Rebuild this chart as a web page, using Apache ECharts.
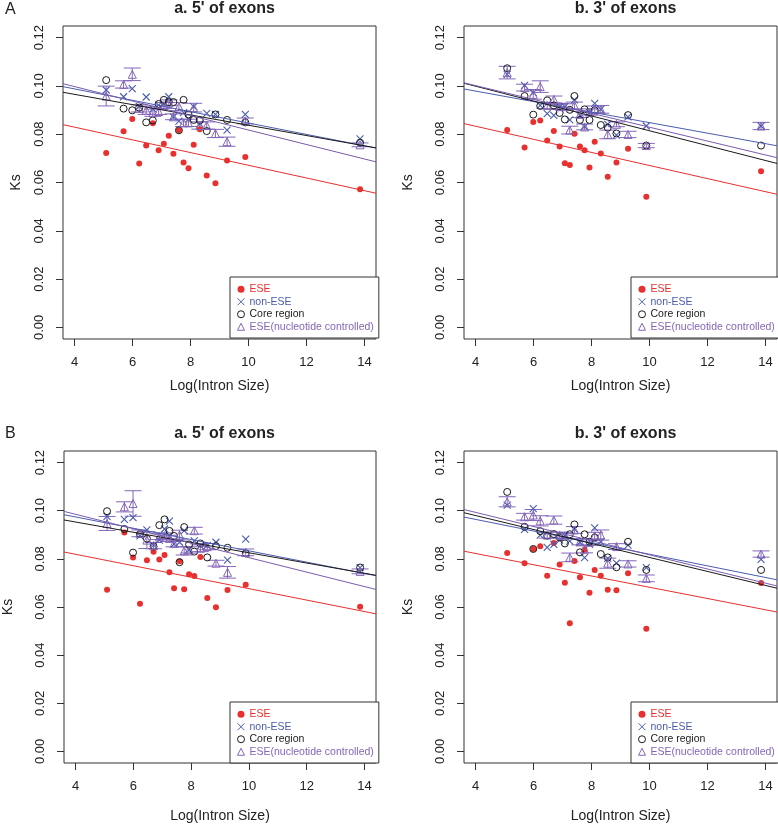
<!DOCTYPE html>
<html>
<head>
<meta charset="utf-8">
<script src="https://cdn.jsdelivr.net/npm/echarts@6/dist/echarts.min.js"></script>
<style>
  html, body { margin: 0; padding: 0; background: #fff; }
  #main { width: 778px; height: 824px; }
</style>
</head>
<body>
<div id="main"></div>
<script>
// log intron size bins (shared by all panels)
const logIntronSize = [5.09, 5.69, 5.99, 6.23, 6.47, 6.70, 6.90, 7.08, 7.25, 7.41, 7.60, 7.76, 7.93, 8.11, 8.32, 8.56, 8.86, 9.26, 9.89, 13.85]
const xTicks = [4, 6, 8, 10, 12, 14]
const yTicks = [0, 0.02, 0.04, 0.06, 0.08, 0.1, 0.12]

// A, 5' of exons
const a5Ese = [0.0722, 0.0812, 0.0863, 0.0679, 0.0753, 0.0845, 0.0734, 0.0760, 0.0794, 0.0719, 0.0816, 0.0683, 0.0659, 0.0756, 0.0821, 0.0629, 0.0597, 0.0691, 0.0706, 0.0572]
const a5NonEse = [0.0983, 0.0955, 0.0989, 0.0915, 0.0954, 0.0905, 0.0920, 0.0926, 0.0955, 0.0872, 0.0854, 0.0889, 0.0862, 0.0914, 0.0843, 0.0886, 0.0882, 0.0817, 0.0882, 0.0781]
const a5Core = [0.1024, 0.0906, 0.0899, 0.0910, 0.0849, 0.0857, 0.0925, 0.0942, 0.0933, 0.0933, 0.0816, 0.0942, 0.0882, 0.0859, 0.0857, 0.0813, 0.0882, 0.0859, 0.0849, 0.0765]
const a5Nc = [0.0958, 0.1006, 0.1048, 0.0907, 0.0899, 0.0889, 0.0894, 0.0919, 0.0930, 0.0872, 0.0914, 0.0847, 0.0847, 0.0910, 0.0836, 0.0836, 0.0803, 0.0769, 0.0855, 0.0756]
const a5NcErr = [0.0041, 0.0015, 0.0026, 0.0015, 0.0017, 0.0015, 0.0012, 0.0012, 0.0012, 0.0012, 0.0017, 0.0015, 0.0015, 0.0018, 0.0015, 0.0015, 0.0017, 0.0019, 0.0012, 0.0008]

// A, 3' of exons
const a3Ese = [0.0817, 0.0745, 0.0850, 0.0857, 0.0774, 0.0813, 0.0749, 0.0680, 0.0672, 0.0802, 0.0749, 0.0734, 0.0662, 0.0769, 0.0720, 0.0624, 0.0683, 0.0740, 0.0541, 0.0647]
const a3NonEse = [0.1048, 0.1002, 0.0972, 0.0919, 0.0885, 0.0878, 0.0914, 0.0914, 0.0859, 0.0942, 0.0878, 0.0831, 0.0889, 0.0928, 0.0903, 0.0841, 0.0796, 0.0872, 0.0834, 0.0834]
const a3Core = [0.1073, 0.0958, 0.0881, 0.0917, 0.0940, 0.0919, 0.0888, 0.0861, 0.0901, 0.0958, 0.0859, 0.0903, 0.0859, 0.0899, 0.0838, 0.0827, 0.0803, 0.0879, 0.0753, 0.0753]
const a3Nc = [0.1055, 0.0993, 0.0965, 0.0997, 0.0919, 0.0944, 0.0914, 0.0914, 0.0817, 0.0919, 0.0882, 0.0830, 0.0892, 0.0903, 0.0903, 0.0799, 0.0841, 0.0799, 0.0753, 0.0834]
const a3NcErr = [0.0026, 0.0014, 0.0020, 0.0024, 0.0013, 0.0014, 0.0012, 0.0012, 0.0016, 0.0014, 0.0013, 0.0012, 0.0013, 0.0014, 0.0016, 0.0018, 0.0010, 0.0013, 0.0009, 0.0015]

// B, 5' of exons
const b5Ese = [0.0672, 0.0909, 0.0806, 0.0614, 0.0794, 0.0830, 0.0797, 0.0816, 0.0744, 0.0678, 0.0790, 0.0674, 0.0736, 0.0729, 0.0808, 0.0637, 0.0599, 0.0671, 0.0692, 0.0601]
const b5NonEse = [0.0976, 0.0964, 0.0971, 0.0895, 0.0920, 0.0857, 0.0878, 0.0924, 0.0957, 0.0862, 0.0869, 0.0917, 0.0837, 0.0875, 0.0855, 0.0855, 0.0869, 0.0795, 0.0882, 0.0764]
const b5Core = [0.0998, 0.0924, 0.0826, 0.0903, 0.0884, 0.0851, 0.0940, 0.0964, 0.0916, 0.0895, 0.0786, 0.0932, 0.0860, 0.0830, 0.0864, 0.0806, 0.0853, 0.0846, 0.0823, 0.0764]
const b5Nc = [0.0947, 0.1016, 0.1030, 0.0906, 0.0878, 0.0855, 0.0892, 0.0896, 0.0885, 0.0864, 0.0899, 0.0833, 0.0837, 0.0917, 0.0844, 0.0851, 0.0782, 0.0744, 0.0827, 0.0748]
const b5NcErr = [0.0029, 0.0021, 0.0053, 0.0014, 0.0035, 0.0013, 0.0012, 0.0012, 0.0013, 0.0014, 0.0020, 0.0017, 0.0013, 0.0014, 0.0014, 0.0013, 0.0012, 0.0024, 0.0014, 0.0010]

// B, 3' of exons
const b3Ese = [0.0824, 0.0782, 0.0841, 0.0852, 0.0730, 0.0866, 0.0777, 0.0701, 0.0533, 0.0791, 0.0724, 0.0838, 0.0659, 0.0754, 0.0730, 0.0672, 0.0670, 0.0740, 0.0510, 0.0700]
const b3NonEse = [0.1023, 0.0922, 0.1009, 0.0899, 0.0848, 0.0860, 0.0878, 0.0896, 0.0874, 0.0924, 0.0869, 0.0805, 0.0860, 0.0929, 0.0871, 0.0802, 0.0782, 0.0857, 0.0764, 0.0798]
const b3Core = [0.1078, 0.0933, 0.0841, 0.0915, 0.0896, 0.0903, 0.0889, 0.0864, 0.0902, 0.0943, 0.0827, 0.0902, 0.0871, 0.0889, 0.0820, 0.0806, 0.0765, 0.0871, 0.0754, 0.0754]
const b3Nc = [0.1037, 0.0975, 0.0982, 0.0958, 0.0899, 0.0961, 0.0899, 0.0896, 0.0806, 0.0920, 0.0871, 0.0840, 0.0869, 0.0896, 0.0899, 0.0782, 0.0851, 0.0779, 0.0719, 0.0820]
const b3NcErr = [0.0021, 0.0014, 0.0023, 0.0021, 0.0013, 0.0017, 0.0012, 0.0012, 0.0018, 0.0014, 0.0013, 0.0015, 0.0013, 0.0014, 0.0021, 0.0021, 0.0012, 0.0013, 0.0014, 0.0013]

const RED = '#e8302e'
const BLUE = '#4b5cb0'
const BLACK = '#1a1a1a'
const PURPLE = '#8466b8'
const CROSS = 'path://M0,0L10,10M10,0L0,10'
const FONT = '"Liberation Sans", Arial, sans-serif'

const panels = [
  { title: "a. 5' of exons", left: 63, top: 26, yNameGap: 40, xNameGap: 40, ese: a5Ese, non: a5NonEse, core: a5Core, nc: a5Nc, err: a5NcErr },
  { title: "b. 3' of exons", left: 464, top: 26, yNameGap: 49, xNameGap: 40, ese: a3Ese, non: a3NonEse, core: a3Core, nc: a3Nc, err: a3NcErr },
  { title: "a. 5' of exons", left: 63, top: 451, yNameGap: 49, xNameGap: 46, ese: b5Ese, non: b5NonEse, core: b5Core, nc: b5Nc, err: b5NcErr },
  { title: "b. 3' of exons", left: 464, top: 451, yNameGap: 49, xNameGap: 46, ese: b3Ese, non: b3NonEse, core: b3Core, nc: b3Nc, err: b3NcErr },
]
const W = 313, H = 313
const X_MIN = 3.6, X_MAX = 14.4

// least squares fit, drawn across the whole x range like abline()
function fitLine(ys) {
  let n = ys.length, mx = 0, my = 0
  for (let i = 0; i < n; i++) { mx += logIntronSize[i]; my += ys[i] }
  mx /= n; my /= n
  let sxy = 0, sxx = 0
  for (let i = 0; i < n; i++) {
    sxy += (logIntronSize[i] - mx) * (ys[i] - my)
    sxx += (logIntronSize[i] - mx) ** 2
  }
  const b = sxy / sxx, a = my - b * mx
  return [[X_MIN, a + b * X_MIN], [X_MAX, a + b * X_MAX]]
}
const pts = ys => logIntronSize.map((x, i) => [x, ys[i]])

let myChart = echarts.init(document.getElementById('main'))

let grid = [], xAxis = [], yAxis = [], series = [], legend = [], title = []

panels.forEach((p, k) => {
  grid.push({ left: p.left, top: p.top, width: W, height: H, show: true, borderColor: '#333', borderWidth: 1, backgroundColor: 'transparent' })
  title.push({
    text: p.title, left: p.left + W / 2, top: p.top - 30, textAlign: 'center',
    textStyle: { fontFamily: FONT, fontSize: 16, fontWeight: 'bold', color: '#222' },
  })
  xAxis.push({
    gridIndex: k, type: 'value', min: X_MIN, max: X_MAX,
    name: 'Log(Intron Size)', nameLocation: 'middle', nameGap: p.xNameGap, nameMoveOverlap: false,
    nameTextStyle: { fontFamily: FONT, fontSize: 14, color: '#222' },
    axisLine: { show: false, onZero: false },
    axisTick: { show: true, length: 7, customValues: xTicks, lineStyle: { color: '#333' } },
    axisLabel: { customValues: xTicks, margin: 17, fontFamily: FONT, fontSize: 13, color: '#222' },
    splitLine: { show: false },
  })
  yAxis.push({
    gridIndex: k, type: 'value', min: -0.0048, max: 0.1248,
    name: 'Ks', nameLocation: 'middle', nameGap: p.yNameGap, nameMoveOverlap: false,
    nameTextStyle: { fontFamily: FONT, fontSize: 14, color: '#222' },
    axisLine: { show: false, onZero: false },
    axisTick: { show: true, length: 7, customValues: yTicks, lineStyle: { color: '#333' } },
    axisLabel: { customValues: yTicks, rotate: 90, margin: 17, fontFamily: FONT, fontSize: 13, color: '#222', formatter: v => v.toFixed(2) },
    splitLine: { show: false },
  })
  legend.push({
    orient: 'vertical', left: p.left + 167, top: p.top + H - 62,
    backgroundColor: '#fff', borderColor: '#333', borderWidth: 1, borderRadius: 0,
    padding: [6, 5, 5, 5], itemWidth: 7, itemHeight: 7, itemGap: 0, selectedMode: false,
    textStyle: { fontFamily: FONT, fontSize: 10.5, lineHeight: 12.5 },
    data: [
      { name: 'ESE', icon: 'circle', itemStyle: { color: RED }, textStyle: { color: RED } },
      { name: 'non-ESE', icon: CROSS, itemStyle: { color: 'none', borderColor: BLUE, borderWidth: 1 }, textStyle: { color: BLUE } },
      { name: 'Core region', icon: 'circle', itemStyle: { color: 'none', borderColor: BLACK, borderWidth: 1 }, textStyle: { color: BLACK } },
      { name: 'ESE(nucleotide controlled)', icon: 'triangle', itemStyle: { color: 'none', borderColor: PURPLE, borderWidth: 1 }, textStyle: { color: PURPLE } },
    ],
  })

  series.push(
    { name: 'ESE', type: 'scatter', xAxisIndex: k, yAxisIndex: k, symbol: 'circle', symbolSize: 6, itemStyle: { color: RED, opacity: 1 }, data: pts(p.ese) },
    { name: 'non-ESE', type: 'scatter', xAxisIndex: k, yAxisIndex: k, symbol: CROSS, symbolSize: 7, itemStyle: { color: 'none', borderColor: BLUE, borderWidth: 1.1, opacity: 1 }, data: pts(p.non) },
    { name: 'Core region', type: 'scatter', xAxisIndex: k, yAxisIndex: k, symbol: 'circle', symbolSize: 7, itemStyle: { color: 'none', borderColor: BLACK, borderWidth: 1, opacity: 1 }, data: pts(p.core) },
    { name: 'ESE(nucleotide controlled)', type: 'scatter', xAxisIndex: k, yAxisIndex: k, symbol: 'triangle', symbolSize: 8, itemStyle: { color: 'none', borderColor: PURPLE, borderWidth: 1, opacity: 1 }, data: pts(p.nc) },
    {
      name: 'ESE(nucleotide controlled)', type: 'custom', xAxisIndex: k, yAxisIndex: k, clip: true,
      data: logIntronSize.map((x, i) => [x, p.nc[i], p.err[i]]),
      renderItem: (params, api) => {
        const x = api.value(0), y = api.value(1), e = api.value(2)
        const hi = api.coord([x, y + e]), lo = api.coord([x, y - e])
        const cap = 8.5
        const st = { stroke: PURPLE, lineWidth: 1 }
        return {
          type: 'group',
          children: [
            { type: 'line', shape: { x1: hi[0], y1: hi[1], x2: lo[0], y2: lo[1] }, style: st },
            { type: 'line', shape: { x1: hi[0] - cap, y1: hi[1], x2: hi[0] + cap, y2: hi[1] }, style: st },
            { type: 'line', shape: { x1: lo[0] - cap, y1: lo[1], x2: lo[0] + cap, y2: lo[1] }, style: st },
          ],
        }
      },
    },
  )
  // fitted lines
  ;[[p.ese, RED], [p.non, BLUE], [p.core, BLACK], [p.nc, '#7a5cb0']].forEach(([ys, c]) => {
    series.push({
      type: 'line', xAxisIndex: k, yAxisIndex: k, symbol: 'none', silent: true,
      lineStyle: { color: c, width: 1 }, data: fitLine(ys),
    })
  })
})

title.push(
  { text: 'A', left: 0, top: -3, textStyle: { fontFamily: FONT, fontSize: 16, fontWeight: 'normal', color: '#222' } },
  { text: 'B', left: 0, top: 421, textStyle: { fontFamily: FONT, fontSize: 16, fontWeight: 'normal', color: '#222' } },
)

let option = {
  animation: false,
  backgroundColor: '#fff',
  title: title,
  legend: legend,
  grid: grid,
  xAxis: xAxis,
  yAxis: yAxis,
  series: series,
}
myChart.setOption(option)
</script>
</body>
</html>
